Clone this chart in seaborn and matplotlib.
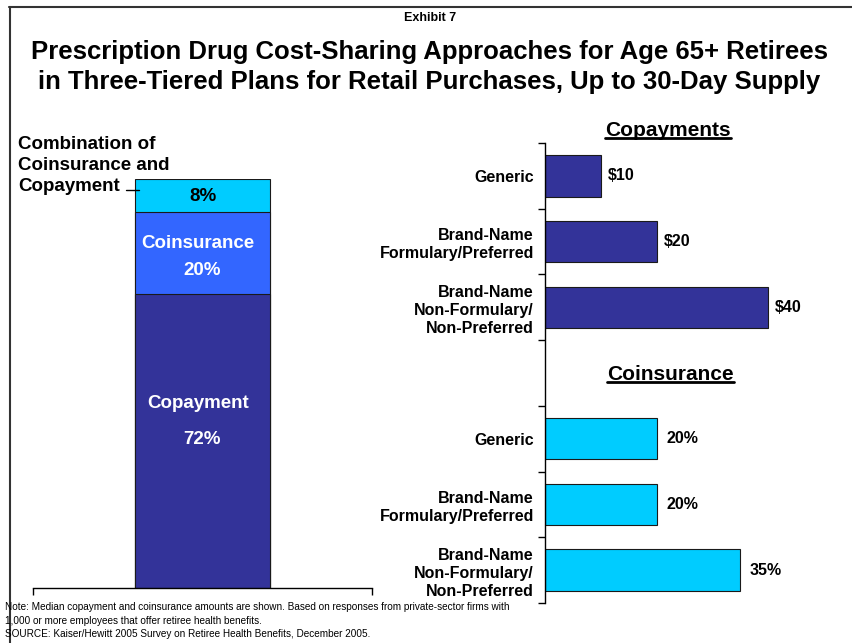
import numpy as np
import pandas as pd
import matplotlib
matplotlib.use("Agg")
import matplotlib.pyplot as plt
import seaborn as sns
from matplotlib.lines import Line2D
from matplotlib.ticker import FixedLocator

# ---------------- data ----------------
segments = ["Copayment", "Coinsurance", "Combination of\nCoinsurance and\nCopayment"]
shares = [72, 20, 8]
tiers = ["Generic", "Brand-Name\nFormulary/Preferred", "Brand-Name\nNon-Formulary/\nNon-Preferred"]
copay_amounts = [10, 20, 40]
coins_rates = [20, 20, 35]
copay_labels = ["$10", "$20", "$40"]
coins_labels = ["20%", "20%", "35%"]

# ---------------- style ----------------
sns.set_theme(style="white")
plt.rcParams['font.family'] = ['Liberation Sans', 'DejaVu Sans']
plt.rcParams['text.color'] = 'black'
plt.rcParams['xtick.color'] = 'black'
plt.rcParams['ytick.color'] = 'black'
plt.rcParams['axes.labelcolor'] = 'black'

W, H = 853, 643
fig = plt.figure(figsize=(W / 100, H / 100), dpi=100)
fig.patch.set_facecolor("white")


def fy(py):
    return 1 - py / H


dark, mid, light = "#333399", "#3366FF", "#00CCFF"
seg_colors = [dark, mid, light]

# ---------------- left: stacked bar ----------------
ax1 = fig.add_axes([33 / W, 1 - 588 / H, 339 / W, 409 / H])
cum = np.cumsum(shares)
for i in reversed(range(len(shares))):
    sns.barplot(x=["All"], y=[cum[i]], color=seg_colors[i], width=0.4,
                edgecolor="#1a1a1a", linewidth=0.8, saturation=1, ax=ax1)
ax1.set_xlim(-0.5, 0.5)
ax1.set_ylim(0, 100)
for s in ["left", "top", "right"]:
    ax1.spines[s].set_visible(False)
ax1.spines["bottom"].set_color("black")
ax1.spines["bottom"].set_linewidth(1)
ax1.set_xticks([-0.5, 0.5], ["", ""])
ax1.set_yticks([])
ax1.tick_params(axis="x", bottom=True, direction="out", length=5, width=1, color="black")
ax1.set_xlabel("")
ax1.set_ylabel("")

fs = 13.5
ax1.text(0, 95.8, f"{shares[2]}%", ha="center", va="center", fontsize=fs, fontweight="bold", color="black")
ax1.text(-0.015, 84.3, segments[1], ha="center", va="center", fontsize=fs, fontweight="bold", color="white")
ax1.text(0, 77.7, f"{shares[1]}%", ha="center", va="center", fontsize=fs, fontweight="bold", color="white")
ax1.text(-0.012, 45.2, segments[0], ha="center", va="center", fontsize=fs, fontweight="bold", color="white")
ax1.text(0, 36.2, f"{shares[0]}%", ha="center", va="center", fontsize=fs, fontweight="bold", color="white")

fig.text(18 / W, fy(136), segments[2], ha="left", va="top", fontsize=fs,
         fontweight="bold", linespacing=1.32)
fig.add_artist(Line2D([126 / W, 139 / W], [fy(190), fy(190)], color="black", lw=1))

# ---------------- right: horizontal bars ----------------
ax2 = fig.add_axes([545 / W, 1 - 603 / H, 281 / W, 460 / H])
copay_keys = [f"copay{i}" for i in range(len(tiers))]
coins_keys = [f"coins{i}" for i in range(len(tiers))]
order = copay_keys + ["gap"] + coins_keys
df = pd.DataFrame({
    "slot": copay_keys + coins_keys,
    "value": copay_amounts + coins_rates,
    "kind": ["Copayments"] * len(tiers) + ["Coinsurance"] * len(tiers),
})
sns.barplot(data=df, x="value", y="slot", hue="kind", order=order,
            hue_order=["Copayments", "Coinsurance"],
            palette={"Copayments": dark, "Coinsurance": light},
            dodge=False, orient="h", width=0.63, edgecolor="#1a1a1a",
            linewidth=0.8, saturation=1, legend=False, ax=ax2)
ax2.set_xlim(0, 281 / 5.58)
ax2.set_ylim(len(order) - 0.5, -0.5)
for s in ["bottom", "top", "right"]:
    ax2.spines[s].set_visible(False)
ax2.spines["left"].set_color("black")
ax2.spines["left"].set_linewidth(1)
ax2.set_xticks([])
ax2.set_yticks(range(len(order)), tiers + [""] + tiers)
ax2.yaxis.set_minor_locator(FixedLocator(np.arange(-0.5, len(order), 1.0)))
ax2.tick_params(axis="y", which="major", left=False, length=0, pad=8, labelsize=11.5)
ax2.tick_params(axis="y", which="minor", left=True, direction="out", length=5, width=1, color="black")
for lab in ax2.get_yticklabels():
    lab.set_fontweight("bold")
    lab.set_linespacing(1.25)
    lab.set_color("black")
ax2.set_xlabel("")
ax2.set_ylabel("")

ax2.bar_label(ax2.containers[0], labels=copay_labels, padding=5, fontsize=11.5, fontweight="bold")
ax2.bar_label(ax2.containers[1], labels=coins_labels, padding=7, fontsize=11.5, fontweight="bold")

t_copay = ax2.text(22.0, -0.69, "Copayments", ha="center", va="center", fontsize=15, fontweight="bold")
t_coins = ax2.text(22.5, 3.03, "Coinsurance", ha="center", va="center", fontsize=15, fontweight="bold")

# ---------------- titles & notes ----------------
fig.text(0.504, fy(18), "Exhibit 7", ha="center", va="center", fontsize=9, fontweight="bold")
fig.text(0.503, fy(52), "Prescription Drug Cost-Sharing Approaches for Age 65+ Retirees",
         ha="center", va="center", fontsize=18.5, fontweight="bold")
fig.text(0.503, fy(82), "in Three-Tiered Plans for Retail Purchases, Up to 30-Day Supply",
         ha="center", va="center", fontsize=18.5, fontweight="bold")

notes = ["Note: Median copayment and coinsurance amounts are shown. Based on responses from private-sector firms with",
         "1,000 or more employees that offer retiree health benefits.",
         "SOURCE: Kaiser/Hewitt 2005 Survey on Retiree Health Benefits, December 2005."]
for k, line in enumerate(notes):
    fig.text(5 / W, fy(607 + 13.5 * k), line, ha="left", va="center", fontsize=7.2)

# frame
fig.add_artist(Line2D([9 / W, 1.0], [fy(7), fy(7)], color="#333333", lw=1.5))
fig.add_artist(Line2D([10 / W, 10 / W], [fy(7), 0.0], color="#333333", lw=1.5))

# underline the section titles
fig.canvas.draw()
r = fig.canvas.get_renderer()
for t in (t_copay, t_coins):
    bb = t.get_window_extent(r)
    yline = (bb.y0 + 2) / H
    fig.add_artist(Line2D([bb.x0 / W, bb.x1 / W], [yline, yline], color="black", lw=2))

fig.savefig("out.png", dpi=100)
